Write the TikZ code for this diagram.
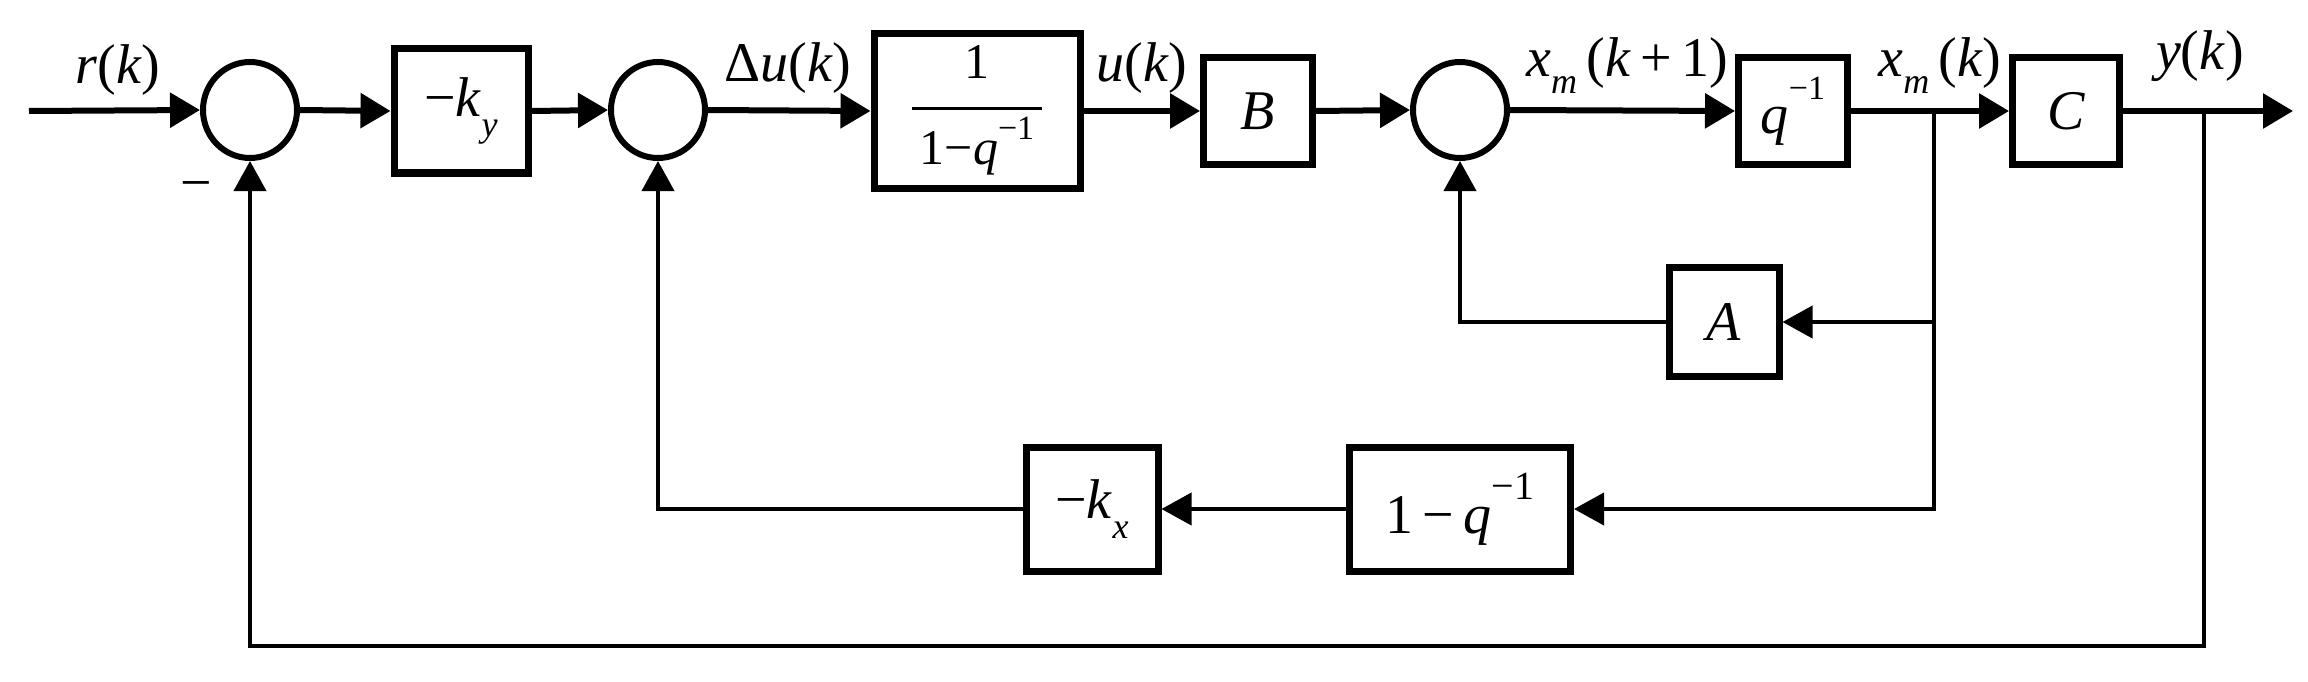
\documentclass[tikz,border=0pt]{standalone}
\usepackage{fontspec}
\setmainfont{Liberation Serif}
\newfontfamily\tms{Liberation Serif}
\usetikzlibrary{arrows.meta,shapes.geometric}
\newcommand{\mn}{−}
\begin{document}
\begin{tikzpicture}[x=1pt,y=-1pt,
  sig/.style={line width=6pt,-{Triangle[length=30pt,width=34pt]}},
  fba/.style={line width=4pt,-{Triangle[length=30pt,width=32pt]}},
  blk/.style={draw,line width=7pt,minimum width=#1,minimum height=107pt,inner sep=0pt,font=\tms\fontsize{56}{60}\selectfont},
  sum/.style={draw,ellipse,line width=6pt,minimum width=94pt,minimum height=96pt,inner sep=0pt},
  lbl/.style={font=\tms\fontsize{56}{60}\selectfont,inner sep=0pt}]
\useasboundingbox (0,0) rectangle (2308,682);
\node[sum] (s1) at (250,110) {};
\node[sum] (s2) at (658,110) {};
\node[sum] (s3) at (1460,110) {};
\node[blk=134pt,minimum height=124pt] (ky) at (461,111) {\mn\textit{k}\raisebox{-0.35em}{\tms\fontsize{36}{38}\selectfont\textit{y}}};
\node[blk=206pt,minimum height=154pt] (fr) at (977,111) {\tms\fontsize{50}{54}\selectfont\begin{tabular}{@{}c@{}}1\\[-8pt]\rule[0.3em]{130pt}{3pt}\\[-24pt]1\mn\textit{q}\raisebox{0.5em}{\tms\fontsize{34}{36}\selectfont\mn1}\end{tabular}};
\node[blk=109pt] (B) at (1258,111) {\textit{B}};
\node[blk=109pt] (qi) at (1793,111) {\textit{q}\raisebox{0.6em}{\tms\fontsize{34}{36}\selectfont\mn1}};
\node[blk=107pt] (C) at (2066,111) {\textit{C}};
\node[blk=110pt,minimum height=109pt] (A) at (1724,322) {\textit{A}};
\node[blk=221pt,minimum height=124pt] (dq) at (1460,509) {1\,\mn\,\textit{q}\raisebox{0.6em}{\tms\fontsize{40}{42}\selectfont\mn1}};
\node[blk=132pt,minimum height=124pt] (kx) at (1092,509) {\mn\textit{k}\raisebox{-0.35em}{\tms\fontsize{36}{38}\selectfont\textit{x}}};
\coordinate (in) at (29,111);
\coordinate (br1) at (1934,111);
\coordinate (br2) at (2204,111);
\coordinate (out) at (2293,111);
\draw[sig] (in) -- (s1.west);
\draw[sig] (s1.east) -- (ky.west);
\draw[sig] (ky.east) -- (s2.west);
\draw[sig] (s2.east) -- (fr.west);
\draw[sig] (fr.east) -- (B.west);
\draw[sig] (B.east) -- (s3.west);
\draw[sig] (s3.east) -- (qi.west);
\draw[sig] (qi.east) -- (C.west);
\draw[sig] (C.east) -- (out);
\draw[fba] (br1) |- (A.east);
\draw[fba] (br1) |- (dq.east);
\draw[fba] (A.west) -| (s3.south);
\draw[fba] (dq.west) -- (kx.east);
\draw[fba] (kx.west) -| (s2.south);
\draw[fba] (br2) |- (250,646) -- (s1.south);
\node[lbl,anchor=south] at (118,96) {\textit{r}(\textit{k})};
\node[lbl] at (196,192) {\mn};
\node[lbl,anchor=south] at (788,94) {Δ\textit{u}(\textit{k})};
\node[lbl,anchor=south] at (1142,94) {\textit{u}(\textit{k})};
\node[lbl,anchor=south] at (1627,94) {\textit{x}\raisebox{-0.3em}{\tms\fontsize{36}{38}\selectfont\textit{m}}\,(\textit{k}\,+\,1)};
\node[lbl,anchor=south] at (1940,94) {\textit{x}\raisebox{-0.3em}{\tms\fontsize{36}{38}\selectfont\textit{m}}\,(\textit{k})};
\node[lbl,anchor=south] at (2200,82) {\textit{y}(\textit{k})};
\end{tikzpicture}
\end{document}
